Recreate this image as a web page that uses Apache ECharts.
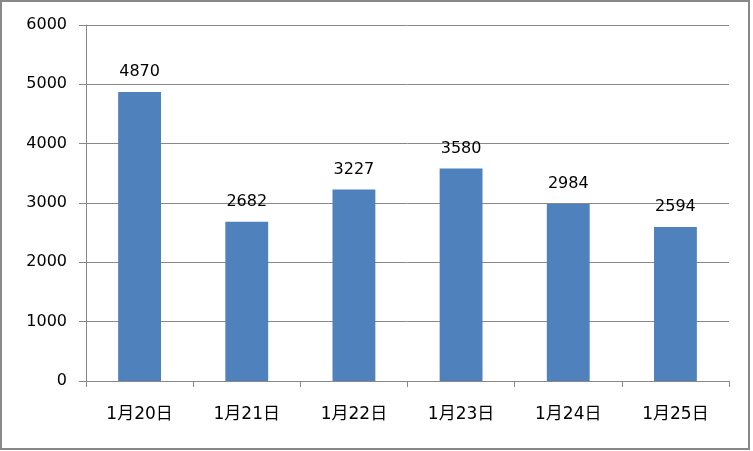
<!DOCTYPE html>
<html><head><meta charset="utf-8">
<script src="https://cdn.jsdelivr.net/npm/echarts@6/dist/echarts.min.js"></script>
<style>html,body{margin:0;padding:0;background:#fff}#c{width:753px;height:451px}</style>
</head><body><div id="c"></div>
<script>
const categories = ['1月20日','1月21日','1月22日','1月23日','1月24日','1月25日'];
const values = [4870, 2682, 3227, 3580, 2984, 2594];
const yTicks = [0, 1000, 2000, 3000, 4000, 5000, 6000];

const chart = echarts.init(document.getElementById('c'), null, {renderer: 'canvas'});
const font = '"DejaVu Sans", "Noto Sans CJK SC", sans-serif';
chart.setOption({
  animation: false,
  graphic: [{
    type: 'rect', shape: {x: 1, y: 1, width: 748, height: 448},
    style: {fill: 'none', stroke: '#888', lineWidth: 2}, silent: true
  }],
  grid: {left: 86, right: 24, top: 25, bottom: 70},
  xAxis: {
    type: 'category', data: categories,
    axisLine: {lineStyle: {color: '#888', width: 1}},
    axisTick: {show: true, alignWithLabel: false, length: 6, lineStyle: {color: '#888'}},
    axisLabel: {color: '#000', fontSize: 17, fontFamily: font, margin: 25}
  },
  yAxis: {
    type: 'value', min: yTicks[0], max: yTicks[yTicks.length - 1], interval: 1000,
    axisLine: {show: true, lineStyle: {color: '#888', width: 1}},
    axisTick: {show: true, length: 7, lineStyle: {color: '#888'}},
    splitLine: {lineStyle: {color: '#888', width: 1}},
    axisLabel: {color: '#000', fontSize: 16, fontFamily: font, margin: 19, formatter: v => String(v)}
  },
  series: [{
    type: 'bar', data: values, barWidth: '40%',
    itemStyle: {color: '#4F81BD'},
    label: {show: true, position: 'top', distance: 12, color: '#000', fontSize: 16, fontFamily: font}
  }]
});
</script></body></html>
